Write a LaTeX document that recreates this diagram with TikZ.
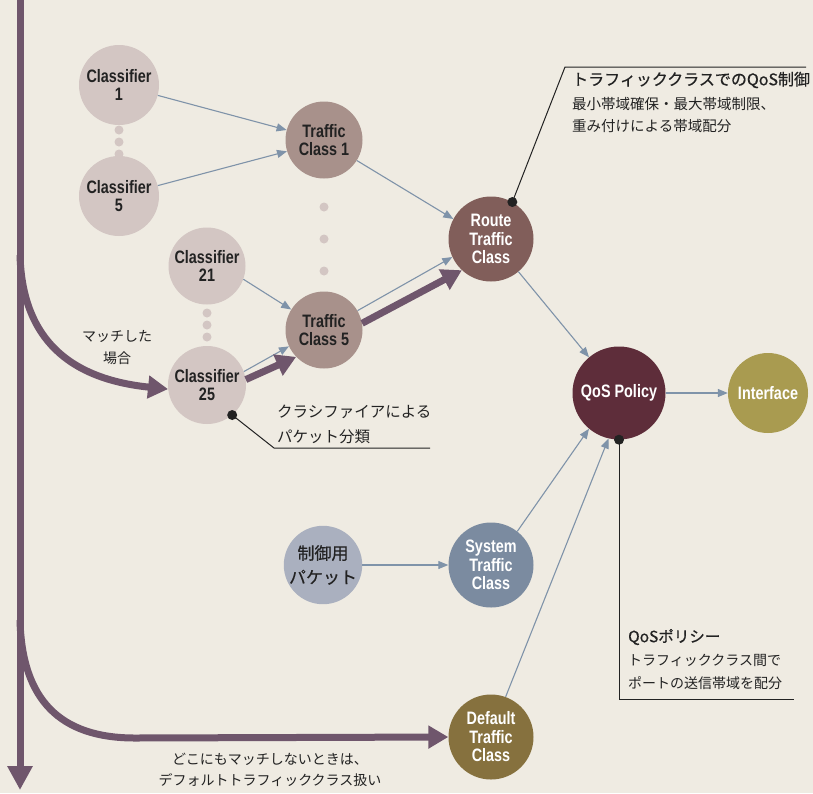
\documentclass[tikz,border=0pt]{standalone}
\usepackage{fontspec}
\setmainfont{Liberation Sans}
\newfontfamily\nodefont[FakeStretch=0.8]{Liberation Sans}
\newfontfamily\jp{Noto Sans CJK JP}
\newfontfamily\jpm[FakeBold=0.5]{Noto Sans CJK JP}
\usetikzlibrary{arrows.meta}
\definecolor{bg}{HTML}{EFEBE2}
\definecolor{clsf}{HTML}{D3C6C3}
\definecolor{tcls}{HTML}{A8918B}
\definecolor{route}{HTML}{815E5A}
\definecolor{qos}{HTML}{5E2D3A}
\definecolor{intf}{HTML}{A99B50}
\definecolor{sys}{HTML}{7B8BA0}
\definecolor{ctrl}{HTML}{AAB0BF}
\definecolor{dflt}{HTML}{86713E}
\definecolor{flow}{HTML}{6F566C}
\definecolor{thin}{HTML}{7F93A9}
\definecolor{txt}{HTML}{222222}
\definecolor{dotc}{HTML}{D3C6C3}
\tikzset{
  ball/.style={circle, inner sep=0pt, draw=none, align=center,
    font={\nodefont\bfseries\fontsize{18}{18.5}\selectfont}},
  darktext/.style={text=txt},
  lighttext/.style={text=white},
  link/.style={draw=thin, line width=1.1pt, -{Triangle[length=10pt,width=8pt]}},
  flowarrow/.style={draw=flow, line width=7pt, -{Triangle[length=20pt,width=22pt]}},
  callout/.style={draw=txt, line width=1pt},
  pin/.style={circle, fill=txt, inner sep=0pt, minimum size=10pt},
  jtext/.style={text=txt, anchor=west, inner sep=0pt, align=left},
  sdot/.style={circle, fill=dotc, inner sep=0pt, minimum size=9pt},
}
\begin{document}
\begin{tikzpicture}[x=1pt,y=-1pt]
\fill[bg] (0,0) rectangle (813,793);
\useasboundingbox (0,0) rectangle (813,793);

% nodes
\node[ball, darktext, fill=clsf, minimum size=80pt] (c1) at (119,85) {Classifier\\1};
\node[ball, darktext, fill=clsf, minimum size=80pt] (c5) at (119,196) {Classifier\\5};
\node[ball, darktext, fill=clsf, minimum size=77pt] (c21) at (207,266) {Classifier\\21};
\node[ball, darktext, fill=clsf, minimum size=78pt] (c25) at (207,385) {Classifier\\25};
\node[ball, darktext, fill=tcls, minimum size=77pt] (tc1) at (324,140) {Traffic\\Class 1};
\node[ball, darktext, fill=tcls, minimum size=77pt] (tc5) at (324,330) {Traffic\\Class 5};
\node[ball, lighttext, fill=route, minimum size=85pt] (rt) at (491,239) {Route\\Traffic\\Class};
\node[ball, lighttext, fill=qos, minimum size=93pt] (qp) at (619,393) {QoS Policy};
\node[ball, lighttext, fill=intf, minimum size=80pt] (if) at (768,393) {Interface};
\node[ball, lighttext, fill=sys, minimum size=85pt] (sys) at (491,565) {System\\Traffic\\Class};
\node[ball, darktext, fill=ctrl, minimum size=78pt, font={\jpm\fontsize{17}{24}\selectfont}] (ctl) at (323,565) {制御用\\パケット};
\node[ball, lighttext, fill=dflt, minimum size=85pt] (df) at (491,737) {Default\\Traffic\\Class};

% dots
\foreach \y [count=\i] in {130,142,154} \node[sdot] (da\i) at (119,\y) {};
\foreach \y [count=\i] in {313,325,337} \node[sdot] (db\i) at (207,\y) {};
\foreach \y [count=\i] in {207,239,271} \node[sdot] (dc\i) at (324,\y) {};

% thin links
\draw[link] (c1.-15) -- (tc1.165);
\draw[link] (c5.15) -- (tc1.197);
\draw[link] (c21.-20) -- (tc5.148);
\draw[link] (c25.20) -- (tc5.205);
\draw[link] (tc1.-32) -- (rt.152);
\draw[link] (tc5.30) -- (rt.205);
\draw[link] (rt.-50) -- (qp.130);
\draw[link] (sys.52) -- (qp.-130);
\draw[link] (df.70) -- (qp.-103);
\draw[link] (qp.east) -- (if.west);
\draw[link] (ctl.east) -- (sys.west);

% thick flow arrows
\coordinate (top) at (20,0);
\coordinate (bottom) at (20,790);
\coordinate (b1) at (20,255);
\coordinate (b2) at (20,620);
\draw[flowarrow, -{Triangle[length=24pt,width=24pt]}] (top) -- (bottom);
\draw[flowarrow] (b1) .. controls (22,330) and (60,378) .. (c25.186);
\draw[flowarrow] (b2) .. controls (22,700) and (60,738) .. (135,738) -- (df.west);
\draw[flowarrow] (c25.8) -- (tc5.224);
\draw[flowarrow] (tc5.10) -- (rt.227);

% callouts
\node[pin] (p1) at (rt.60) {};
\coordinate (k1) at (565,67);
\coordinate (e1) at (806,67);
\draw[callout] (p1.center) -- (k1) -- (e1);
\node[jtext, font={\jpm\fontsize{16}{16}\selectfont}] (t1) at (572,80) {トラフィッククラスでのQoS制御};
\node[jtext, font={\jp\fontsize{14.5}{22}\selectfont}] (t1b) at (572,115) {最小帯域確保・最大帯域制限、\\重み付けによる帯域配分};

\node[pin] (p2) at (c25.-50) {};
\coordinate (k2) at (274,448);
\coordinate (e2) at (430,448);
\draw[callout] (p2.center) -- (k2) -- (e2);
\node[jtext, font={\jp\fontsize{15.5}{25}\selectfont}] (t2) at (277,424) {クラシファイアによる\\パケット分類};

\node[pin] (p3) at (qp.-90) {};
\coordinate (k3) at (619,699);
\coordinate (e3) at (794,699);
\draw[callout] (p3.center) -- (k3) -- (e3);
\node[jtext, font={\jpm\fontsize{15.5}{15.5}\selectfont}] (t3) at (628,637) {QoSポリシー};
\node[jtext, font={\jp\fontsize{14}{23}\selectfont}] (t3b) at (628,672) {トラフィッククラス間で\\ポートの送信帯域を配分};

% flow labels
\node[text=txt, align=center, font={\jp\fontsize{14}{22}\selectfont}] (m1) at (117,348) {マッチした\\場合};
\node[text=txt, align=center, font={\jp\fontsize{14}{21}\selectfont}] (m2) at (270,770) {どこにもマッチしないときは、\\デフォルトトラフィッククラス扱い};
\end{tikzpicture}
\end{document}
